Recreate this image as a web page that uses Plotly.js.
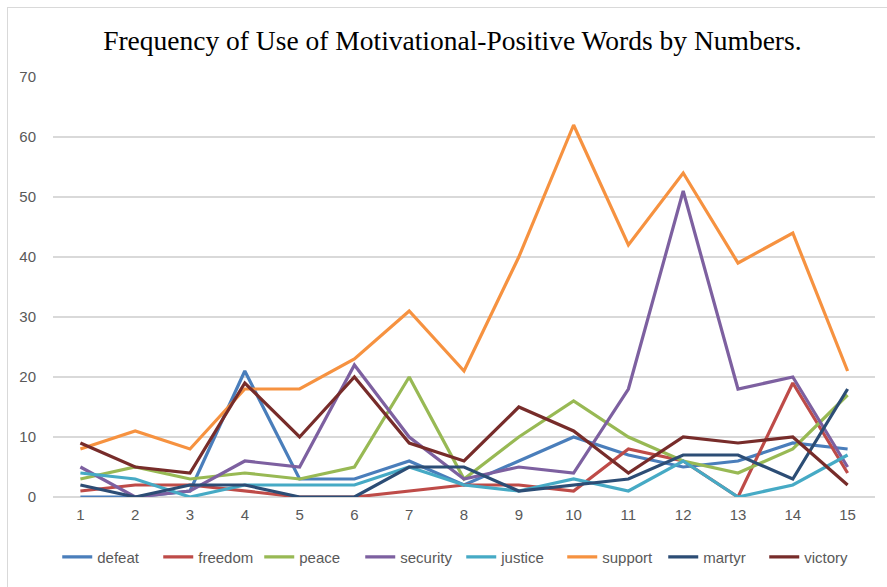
<!DOCTYPE html>
<html>
<head>
<meta charset="utf-8">
<script src="https://cdn.plot.ly/plotly-3.0.1.min.js"></script>
<style>
  html, body { margin: 0; padding: 0; background: #ffffff; }
  #wrap { position: relative; width: 887px; height: 587px; }
  #chart { width: 887px; height: 587px; }
  #frame { position: absolute; left: 7px; top: 7px; width: 900px; height: 600px;
           border-left: 1px solid #d9d9d9; border-top: 1px solid #d9d9d9; pointer-events: none; }
</style>
</head>
<body>
<div id="wrap">
  <div id="chart"></div>
  <div id="frame"></div>
</div>
<script>
const categories = [1, 2, 3, 4, 5, 6, 7, 8, 9, 10, 11, 12, 13, 14, 15];
const tickLabels = ["1","2","3","4","5","6","7","8","9","10","11","12","13","14","15"];

const defeat   = [0, 0, 1, 21, 3, 3, 6, 2, 6, 10, 7, 5, 6, 9, 8];
const freedom  = [1, 2, 2, 1, 0, 0, 1, 2, 2, 1, 8, 6, 0, 19, 4];
const peace    = [3, 5, 3, 4, 3, 5, 20, 3, 10, 16, 10, 6, 4, 8, 17];
const security = [5, 0, 1, 6, 5, 22, 10, 3, 5, 4, 18, 51, 18, 20, 5];
const justice  = [4, 3, 0, 2, 2, 2, 5, 2, 1, 3, 1, 6, 0, 2, 7];
const support  = [8, 11, 8, 18, 18, 23, 31, 21, 40, 62, 42, 54, 39, 44, 21];
const martyr   = [2, 0, 2, 2, 0, 0, 5, 5, 1, 2, 3, 7, 7, 3, 18];
const victory  = [9, 5, 4, 19, 10, 20, 9, 6, 15, 11, 4, 10, 9, 10, 2];

const seriesNames  = ["defeat", "freedom", "peace", "security", "justice", "support", "martyr", "victory"];
const seriesValues = [defeat, freedom, peace, security, justice, support, martyr, victory];
const seriesColors = ["#4a7ebb", "#be4b48", "#98b954", "#7d60a0", "#46aac5", "#f69240", "#2c4d75", "#772c2a"];

const traces = seriesNames.map((name, i) => ({
  type: "scatter",
  mode: "lines",
  name: name,
  x: categories,
  y: seriesValues[i],
  line: { color: seriesColors[i], width: 3.2 },
  hoverinfo: "x+y+name"
}));

const layout = {
  width: 887,
  height: 587,
  margin: { l: 53, r: 12, t: 77, b: 90, autoexpand: false },
  paper_bgcolor: "#ffffff",
  plot_bgcolor: "#ffffff",
  title: {
    text: "Frequency of Use of Motivational-Positive Words by Numbers.",
    font: { family: "Liberation Serif, Times New Roman, serif", size: 27.5, color: "#000000" },
    x: 0.51, xanchor: "center",
    y: 0.932, yanchor: "middle"
  },
  xaxis: {
    range: [0.5, 15.5],
    tickmode: "array",
    tickvals: categories,
    ticktext: tickLabels,
    showgrid: false,
    zeroline: false,
    showline: false,
    ticks: "",
    tickfont: { family: "Liberation Sans, Arial, sans-serif", size: 15, color: "#595959" },
    ticklabelstandoff: 7,
    fixedrange: true
  },
  yaxis: {
    range: [0, 70],
    tickmode: "array",
    tickvals: [0, 10, 20, 30, 40, 50, 60, 70],
    showgrid: true,
    gridcolor: "#d9d9d9",
    gridwidth: 1.5,
    zeroline: true,
    zerolinecolor: "#d9d9d9",
    zerolinewidth: 1.5,
    showline: false,
    ticks: "",
    tickfont: { family: "Liberation Sans, Arial, sans-serif", size: 15, color: "#595959" },
    ticklabelstandoff: 16,
    fixedrange: true
  },
  showlegend: true,
  legend: {
    orientation: "h",
    xref: "container", yref: "container",
    x: 0.52, xanchor: "center",
    y: 0.051, yanchor: "middle",
    font: { family: "Liberation Sans Narrow, Liberation Sans, Arial, sans-serif", size: 15, color: "#595959" },
    itemwidth: 30,
    entrywidth: 56,
    entrywidthmode: "pixels",
    tracegroupgap: 0
  },
  hovermode: "closest"
};

Plotly.newPlot("chart", traces, layout, { displayModeBar: false, staticPlot: false });
</script>
</body>
</html>
